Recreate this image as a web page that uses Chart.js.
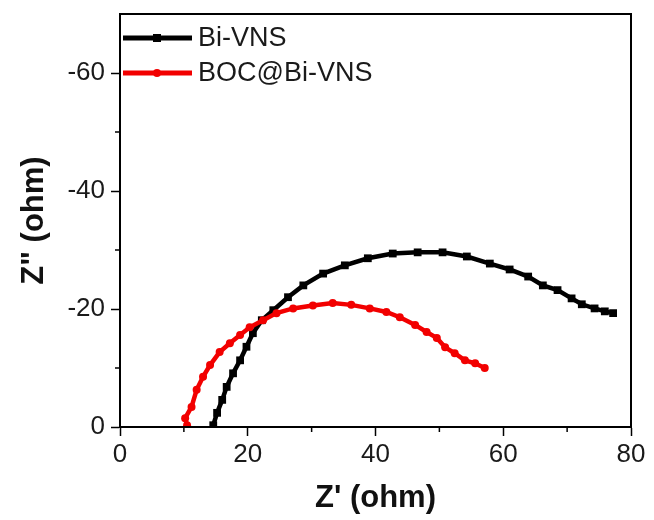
<!DOCTYPE html>
<html>
<head>
<meta charset="utf-8">
<script src="https://cdn.jsdelivr.net/npm/chart.js@4.4.1/dist/chart.umd.min.js"></script>
<style>
  html, body { margin: 0; padding: 0; background: #fff; }
  #wrap { width: 654px; height: 520px; }
</style>
</head>
<body>
<div id="wrap"><canvas id="chart"></canvas></div>
<script>
// Bi-VNS: Z' and Z'' (ohm)
const biVnsRe = [14.6, 15.2, 16.0, 16.7, 17.7, 18.8, 19.8, 20.8, 22.2, 24.0, 26.3, 28.7, 31.8, 35.2, 38.8, 42.7, 46.6, 50.5, 54.3, 57.9, 61.0, 63.9, 66.2, 68.5, 70.7, 72.3, 74.3, 75.9, 77.2];
const biVnsIm = [-0.3, -2.4, -4.6, -6.8, -9.1, -11.3, -13.6, -15.9, -18.1, -19.8, -22.0, -24.0, -26.0, -27.4, -28.6, -29.4, -29.6, -29.6, -28.9, -27.7, -26.7, -25.5, -24.0, -23.2, -21.8, -20.8, -20.1, -19.6, -19.3];

// BOC@Bi-VNS
const bocRe = [10.5, 10.2, 11.2, 12.0, 13.0, 14.1, 15.6, 17.2, 18.8, 20.3, 22.4, 24.5, 27.1, 30.2, 33.3, 36.2, 39.1, 41.7, 43.8, 46.2, 48.0, 49.6, 50.9, 52.4, 54.0, 55.6, 57.1];
const bocIm = [-0.3, -1.5, -3.4, -6.3, -8.5, -10.5, -12.7, -14.2, -15.6, -16.9, -18.1, -19.3, -20.1, -20.6, -21.0, -20.7, -20.1, -19.5, -18.6, -17.3, -16.1, -15.1, -13.5, -12.5, -11.3, -10.8, -10.0];

const xTicks = [0, 10, 20, 30, 40, 50, 60, 70, 80];
const yTicks = [0, -10, -20, -30, -40, -50, -60];

const toPoints = (xs, ys) => xs.map((x, i) => ({ x: x, y: ys[i] }));
const tickFont = { family: "'Liberation Sans', Arial, sans-serif", size: 26 };
const titleFont = { family: "'Liberation Sans', Arial, sans-serif", size: 31, weight: "bold" };

// frame on top/right plus short minor ticks
const framePlugin = {
    id: "frame",
    afterDraw(chart) {
        const { ctx, chartArea: a, scales } = chart;
        ctx.save();
        ctx.strokeStyle = "#000";
        ctx.lineWidth = 2;
        ctx.strokeRect(a.left, a.top, a.right - a.left, a.bottom - a.top);
        ctx.lineWidth = 1.5;
        xTicks.filter(v => v % 20 !== 0).forEach(v => {
            const px = scales.x.getPixelForValue(v);
            ctx.beginPath(); ctx.moveTo(px, a.bottom); ctx.lineTo(px, a.bottom + 5); ctx.stroke();
        });
        yTicks.filter(v => v % 20 !== 0).forEach(v => {
            const py = scales.y.getPixelForValue(v);
            ctx.beginPath(); ctx.moveTo(a.left, py); ctx.lineTo(a.left - 5, py); ctx.stroke();
        });
        ctx.restore();
    }
};

// legend in the upper left corner, line with marker
const legendPlugin = {
    id: "innerLegend",
    afterDraw(chart) {
        const { ctx, chartArea: a } = chart;
        ctx.save();
        [0, 1].forEach(i => {
            const ds = chart.data.datasets[i];
            const y = a.top + 24 + i * 35;
            const x0 = a.left + 3, x1 = a.left + 72;
            ctx.strokeStyle = ds.borderColor;
            ctx.lineWidth = 5;
            ctx.beginPath(); ctx.moveTo(x0, y); ctx.lineTo(x1, y); ctx.stroke();
            ctx.fillStyle = ds.borderColor;
            const mx = a.left + 37;
            if (ds.pointStyle === "rect") {
                ctx.fillRect(mx - 4, y - 4, 8, 8);
            } else {
                ctx.beginPath(); ctx.arc(mx, y, 4, 0, Math.PI * 2); ctx.fill();
            }
            ctx.fillStyle = "#1a1a1a";
            ctx.font = "27px 'Liberation Sans', Arial, sans-serif";
            ctx.textBaseline = "middle";
            ctx.fillText(ds.label, x1 + 6, y + 1);
        });
        ctx.restore();
    }
};

new Chart(document.getElementById("chart"), {
    type: "scatter",
    data: {
        datasets: [{
            label: "Bi-VNS",
            data: toPoints(biVnsRe, biVnsIm),
            showLine: true,
            borderColor: "#000000",
            backgroundColor: "#000000",
            borderWidth: 4.5,
            pointStyle: "rect",
            pointRadius: 5.5,
            pointBorderWidth: 0,
            order: 2,
        }, {
            label: "BOC@Bi-VNS",
            data: toPoints(bocRe, bocIm),
            showLine: true,
            borderColor: "#f20000",
            backgroundColor: "#f20000",
            borderWidth: 4.5,
            pointStyle: "circle",
            pointRadius: 4,
            pointBorderWidth: 0,
            order: 1,
        }]
    },
    options: {
        responsive: true,
        maintainAspectRatio: false,
        animation: false,
        layout: { padding: { top: 14, right: 23, left: 0, bottom: 0 } },
        plugins: {
            legend: { display: false },
            tooltip: { enabled: false },
        },
        scales: {
            x: {
                type: "linear",
                min: 0, max: 80,
                afterBuildTicks: s => { s.ticks = xTicks.map(v => ({ value: v })); },
                afterFit: s => { s.height = 93; s.paddingLeft = 0; s.paddingRight = 0; },
                border: { display: true, color: "#000", width: 2 },
                grid: {
                    drawOnChartArea: false,
                    tickLength: 9,
                    tickWidth: 1.5,
                    tickColor: c => (c.tick && c.tick.value % 20 === 0) ? "#000" : "rgba(0,0,0,0)",
                },
                ticks: {
                    font: tickFont,
                    color: "#1a1a1a",
                    padding: 3,
                    maxRotation: 0,
                    callback: v => (v % 20 === 0 ? v : ""),
                },
                title: {
                    display: true,
                    text: "Z' (ohm)",
                    font: titleFont,
                    color: "#111",
                    padding: { top: 0, bottom: 3 },
                },
            },
            y: {
                type: "linear",
                reverse: true,
                min: -70, max: 0,
                afterBuildTicks: s => { s.ticks = yTicks.map(v => ({ value: v })); },
                afterFit: s => { s.width = 120; s.paddingTop = 0; s.paddingBottom = 0; },
                border: { display: true, color: "#000", width: 2 },
                grid: {
                    drawOnChartArea: false,
                    tickLength: 9,
                    tickWidth: 1.5,
                    tickColor: c => (c.tick && c.tick.value % 20 === 0) ? "#000" : "rgba(0,0,0,0)",
                },
                ticks: {
                    font: tickFont,
                    color: "#1a1a1a",
                    padding: 6,
                    callback: v => (v % 20 === 0 ? v : ""),
                },
                title: {
                    display: true,
                    text: 'Z" (ohm)',
                    font: titleFont,
                    color: "#111",
                    padding: { top: 16, bottom: 0 },
                },
            }
        }
    },
    plugins: [framePlugin, legendPlugin]
});
</script>
</body>
</html>
